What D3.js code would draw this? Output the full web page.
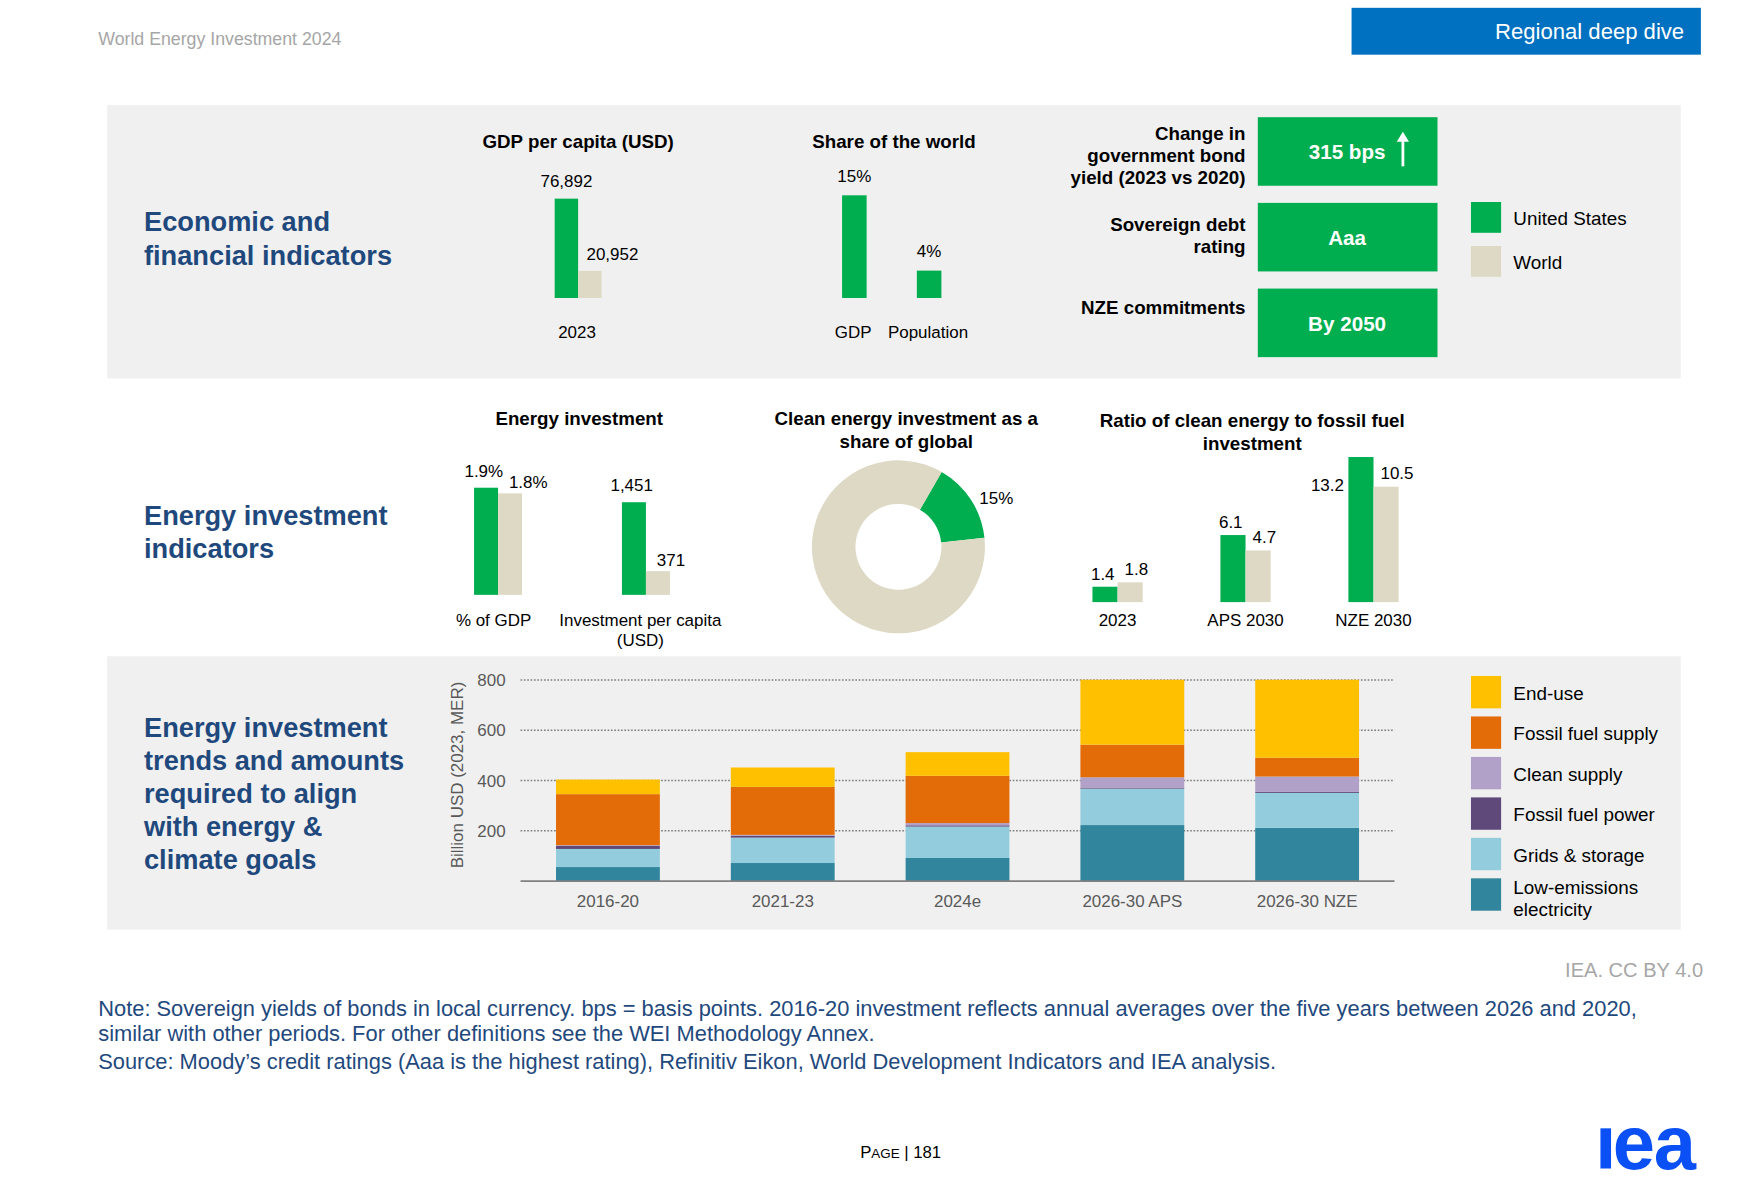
<!DOCTYPE html>
<html>
<head>
<meta charset="utf-8">
<script src="https://cdn.jsdelivr.net/npm/d3@7"></script>
<style>
  html, body { margin: 0; padding: 0; background: #ffffff; }
  svg { display: block; font-family: "Liberation Sans", Arial, sans-serif; }
</style>
</head>
<body>
<svg id="chart" width="1750" height="1204" viewBox="0 0 1568 1078.8"></svg>
<script>
// ---------------- DATA ----------------
const gdpCats = ["2023"];
const gdpUS = [76892];
const gdpWorld = [20952];
const gdpUSLabels = ["76,892"];
const gdpWorldLabels = ["20,952"];

const shareCats = ["GDP", "Population"];
const shareVals = [15, 4];
const shareLabels = ["15%", "4%"];

const boxLabels = [["Change in", "government bond", "yield (2023 vs 2020)"], ["Sovereign debt", "rating"], ["NZE commitments"]];
const boxValues = ["315 bps", "Aaa", "By 2050"];

const legendTop = ["United States", "World"];

const invCats = ["% of GDP", "Investment per capita\n(USD)"];
const invUS = [1.9, 1451];
const invWorld = [1.8, 371];
const invUSLabels = ["1.9%", "1,451"];
const invWorldLabels = ["1.8%", "371"];

const cleanShare = [15, 85];
const cleanShareLabel = "15%";

const ratioCats = ["2023", "APS 2030", "NZE 2030"];
const ratioUS = [1.4, 6.1, 13.2];
const ratioWorld = [1.8, 4.7, 10.5];

const periods = ["2016-20", "2021-23", "2024e", "2026-30 APS", "2026-30 NZE"];
const seriesNames = ["Low-emissions electricity", "Grids & storage", "Fossil fuel power", "Clean supply", "Fossil fuel supply", "End-use"];
const lowEmissions = [56, 72, 92, 223, 212];
const gridsStorage = [72, 101, 125, 145, 139];
const fossilPower = [12, 7, 5, 4, 4];
const cleanSupply = [3, 4, 9, 41, 61];
const fossilSupply = [203, 191, 188, 130, 75];
const endUse = [58, 77, 94, 258, 310];
const yTicks = [200, 400, 600, 800];
const legendBottom = ["End-use", "Fossil fuel supply", "Clean supply", "Fossil fuel power", "Grids & storage", "Low-emissions\nelectricity"];

// ---------------- STYLE ----------------
const GREEN = "#00AE50", BEIGE = "#DDD9C4", NAVY = "#1F497D", PANEL = "#F0F0F0";
const seriesColors = {
  "Low-emissions electricity": "#31859C",
  "Grids & storage": "#93CDDD",
  "Fossil fuel power": "#5F497A",
  "Clean supply": "#B1A0C7",
  "Fossil fuel supply": "#E36C09",
  "End-use": "#FFC000"
};

const svg = d3.select("#chart");

// ---------------- HEADER ----------------
svg.append("text").attr("x", 88).attr("y", 40).attr("font-size", 15.9).attr("fill", "#A6A6A6")
  .text("World Energy Investment 2024");
svg.append("rect").attr("x", 1211).attr("y", 7).attr("width", 313).attr("height", 42).attr("fill", "#0070C0");
svg.append("text").attr("x", 1509).attr("y", 35).attr("font-size", 19.8).attr("fill", "#fff")
  .attr("text-anchor", "end").text("Regional deep dive");

// panels
svg.append("rect").attr("x", 96).attr("y", 94).attr("width", 1410).attr("height", 245).attr("fill", PANEL);
svg.append("rect").attr("x", 96).attr("y", 588).attr("width", 1410).attr("height", 245).attr("fill", PANEL);

function multiText(g, lines, x, y, lh, attrs) {
  const t = g.append("text").attr("x", x).attr("y", y);
  Object.entries(attrs).forEach(([k, v]) => t.attr(k, v));
  lines.forEach((l, i) => t.append("tspan").attr("x", x).attr("y", y + i * lh).text(l));
  return t;
}
function applyAttrs(sel, attrs) { Object.entries(attrs).forEach(([k, v]) => sel.attr(k, v)); return sel; }

// section titles
const secAttrs = { "font-size": 24.4, "font-weight": "bold", "fill": NAVY };
multiText(svg, ["Economic and", "financial indicators"], 129, 207, 30, secAttrs);
multiText(svg, ["Energy investment", "indicators"], 129, 470, 30, secAttrs);
multiText(svg, ["Energy investment", "trends and amounts", "required to align", "with energy &", "climate goals"], 129, 660, 29.6, secAttrs);

const titleAttrs = { "font-size": 16.8, "font-weight": "bold", "fill": "#000", "text-anchor": "middle" };
const lblAttrs = { "font-size": 15.2, "fill": "#000" };

// ---------------- GDP PER CAPITA ----------------
{
  const g = svg.append("g");
  multiText(g, ["GDP per capita (USD)"], 518, 133, 20, titleAttrs);
  const x = d3.scaleBand().domain(gdpCats).range([476, 560]);
  const y = d3.scaleLinear().domain([0, d3.max(gdpUS)]).range([267, 178]);
  const bw = 21;
  gdpCats.forEach((c, i) => {
    const cx = x(c) + x.bandwidth() / 2;
    g.append("rect").attr("x", cx - bw).attr("width", bw).attr("y", y(gdpUS[i])).attr("height", y(0) - y(gdpUS[i])).attr("fill", GREEN);
    g.append("rect").attr("x", cx).attr("width", bw).attr("y", y(gdpWorld[i])).attr("height", y(0) - y(gdpWorld[i])).attr("fill", BEIGE);
    applyAttrs(g.append("text"), lblAttrs).attr("x", cx - bw / 2).attr("y", y(gdpUS[i]) - 10).attr("text-anchor", "middle").text(gdpUSLabels[i]);
    applyAttrs(g.append("text"), lblAttrs).attr("x", cx + bw / 2 - 3).attr("y", y(gdpWorld[i]) - 10).attr("text-anchor", "start").text(gdpWorldLabels[i]);
    applyAttrs(g.append("text"), lblAttrs).attr("x", cx - 1).attr("y", y(0) + 36).attr("text-anchor", "middle").text(c);
  });
}

// ---------------- SHARE OF THE WORLD ----------------
{
  const g = svg.append("g");
  multiText(g, ["Share of the world"], 801, 133, 20, titleAttrs);
  const x = d3.scaleBand().domain(shareCats).range([732, 866]);
  const y = d3.scaleLinear().domain([0, d3.max(shareVals)]).range([267, 175]);
  const bw = 22;
  shareCats.forEach((c, i) => {
    const cx = x(c) + x.bandwidth() / 2;
    g.append("rect").attr("x", cx - bw / 2).attr("width", bw).attr("y", y(shareVals[i])).attr("height", y(0) - y(shareVals[i])).attr("fill", GREEN);
    applyAttrs(g.append("text"), lblAttrs).attr("x", cx).attr("y", y(shareVals[i]) - 12).attr("text-anchor", "middle").text(shareLabels[i]);
    applyAttrs(g.append("text"), lblAttrs).attr("x", cx - 1).attr("y", 303).attr("text-anchor", "middle").text(c);
  });
}

// ---------------- BOXES ----------------
{
  const g = svg.append("g");
  const yb = d3.scaleBand().domain(boxValues).range([105, 320]).paddingInner(0.2);
  const boxLbl = { "font-size": 16.8, "font-weight": "bold", "fill": "#000", "text-anchor": "end" };
  boxValues.forEach((v, i) => {
    const y0 = yb(v), h = yb.bandwidth();
    g.append("rect").attr("x", 1127).attr("y", y0).attr("width", 161).attr("height", h).attr("fill", GREEN);
    g.append("text").attr("x", 1207).attr("y", y0 + h / 2 + 7).attr("text-anchor", "middle")
      .attr("font-size", 18.5).attr("font-weight", "bold").attr("fill", "#fff").text(v);
    const lines = boxLabels[i];
    const startY = lines.length === 1 ? y0 + 23 : (lines.length === 2 ? y0 + 25 : y0 + 20);
    multiText(g, lines, 1116, startY, 20, boxLbl);
  });
  // arrow in first box
  const y0 = yb(boxValues[0]);
  g.append("line").attr("x1", 1257).attr("x2", 1257).attr("y1", y0 + 44).attr("y2", y0 + 20).attr("stroke", "#fff").attr("stroke-width", 2.5);
  g.append("path").attr("d", `M${1251.5},${y0 + 22} L${1257},${y0 + 13} L${1262.5},${y0 + 22} Z`).attr("fill", "#fff");
}

// legend top
{
  const g = svg.append("g");
  const ly = d3.scaleBand().domain(legendTop).range([181, 248]).paddingInner(0.3);
  legendTop.forEach((n, i) => {
    g.append("rect").attr("x", 1318).attr("y", ly(n)).attr("width", 27).attr("height", ly.bandwidth()).attr("fill", i === 0 ? GREEN : BEIGE);
    g.append("text").attr("x", 1356).attr("y", ly(n) + ly.bandwidth() / 2 + 7).attr("font-size", 16.9).attr("fill", "#000").text(n);
  });
}

// ---------------- ENERGY INVESTMENT ----------------
{
  const g = svg.append("g");
  multiText(g, ["Energy investment"], 519, 381, 20, titleAttrs);
  const x = d3.scaleBand().domain(invCats).range([380, 645]);
  const base = 533;
  const scales = [
    d3.scaleLinear().domain([0, invUS[0]]).range([base, 437]),
    d3.scaleLinear().domain([0, invUS[1]]).range([base, 450])
  ];
  const bw = 21.5;
  invCats.forEach((c, i) => {
    const cx = x(c) + x.bandwidth() / 2;
    const y = scales[i];
    g.append("rect").attr("x", cx - bw).attr("width", bw).attr("y", y(invUS[i])).attr("height", y(0) - y(invUS[i])).attr("fill", GREEN);
    g.append("rect").attr("x", cx).attr("width", bw).attr("y", y(invWorld[i])).attr("height", y(0) - y(invWorld[i])).attr("fill", BEIGE);
    applyAttrs(g.append("text"), lblAttrs).attr("x", cx - bw / 2 - 2).attr("y", y(invUS[i]) - 10).attr("text-anchor", "middle").text(invUSLabels[i]);
    applyAttrs(g.append("text"), lblAttrs).attr("x", cx + bw / 2 - 1).attr("y", y(invWorld[i]) - 5).attr("text-anchor", "start").text(invWorldLabels[i]);
    multiText(g, c.split("\n"), cx - 4 + i * -1, 561, 18, Object.assign({ "text-anchor": "middle" }, lblAttrs));
  });
}

// ---------------- DONUT ----------------
{
  const g = svg.append("g");
  multiText(g, ["Clean energy investment as a", "share of global"], 812, 381, 20, titleAttrs);
  const cx = 805, cy = 490;
  const pie = d3.pie().sort(null).startAngle(30 * Math.PI / 180).endAngle(30 * Math.PI / 180 + 2 * Math.PI);
  const arcs = pie(cleanShare);
  const arc = d3.arc().innerRadius(38.5).outerRadius(77.5);
  const dg = g.append("g").attr("transform", `translate(${cx},${cy})`);
  dg.selectAll("path").data(arcs).join("path").attr("d", arc).attr("fill", (d, i) => i === 0 ? GREEN : BEIGE);
  const labelArc = d3.arc().innerRadius(90).outerRadius(90);
  const c = labelArc.centroid(arcs[0]);
  applyAttrs(dg.append("text"), lblAttrs).attr("x", c[0] - 3).attr("y", c[1] + 11).attr("text-anchor", "start").text(cleanShareLabel);
}

// ---------------- RATIO ----------------
{
  const g = svg.append("g");
  multiText(g, ["Ratio of clean energy to fossil fuel", "investment"], 1122, 383, 20, titleAttrs);
  const x = d3.scaleBand().domain(ratioCats).range([944, 1288]);
  const y = d3.scaleLinear().domain([0, d3.max(ratioUS)]).range([539.5, 409.5]);
  const bw = 22.5;
  ratioCats.forEach((c, i) => {
    const cx = x(c) + x.bandwidth() / 2;
    g.append("rect").attr("x", cx - bw).attr("width", bw).attr("y", y(ratioUS[i])).attr("height", y(0) - y(ratioUS[i])).attr("fill", GREEN);
    g.append("rect").attr("x", cx).attr("width", bw).attr("y", y(ratioWorld[i])).attr("height", y(0) - y(ratioWorld[i])).attr("fill", BEIGE);
    const top = y(ratioUS[i]);
    const lu = applyAttrs(g.append("text"), lblAttrs).text(d3.format(".1f")(ratioUS[i]));
    if (top < 420) {
      lu.attr("x", cx - bw - 4).attr("y", top + 30).attr("text-anchor", "end");
    } else {
      lu.attr("x", cx - bw / 2 - 2).attr("y", top - 6).attr("text-anchor", "middle");
    }
    applyAttrs(g.append("text"), lblAttrs).attr("x", cx + bw / 2 - 5).attr("y", y(ratioWorld[i]) - 7).attr("text-anchor", "start").text(d3.format(".1f")(ratioWorld[i]));
    applyAttrs(g.append("text"), lblAttrs).attr("x", cx).attr("y", 561).attr("text-anchor", "middle").text(c);
  });
}

// ---------------- STACKED BAR ----------------
{
  const g = svg.append("g");
  const rows = periods.map((p, i) => ({
    period: p,
    "Low-emissions electricity": lowEmissions[i],
    "Grids & storage": gridsStorage[i],
    "Fossil fuel power": fossilPower[i],
    "Clean supply": cleanSupply[i],
    "Fossil fuel supply": fossilSupply[i],
    "End-use": endUse[i]
  }));
  const stack = d3.stack().keys(seriesNames)(rows);
  const x = d3.scaleBand().domain(periods).range([466.4, 1249.5]).paddingInner(0.406).paddingOuter(0.203);
  const y = d3.scaleLinear().domain([0, 800]).range([789.5, 609.3]);

  g.selectAll("line.grid").data(yTicks).join("line").attr("class", "grid")
    .attr("x1", 466.4).attr("x2", 1249.5).attr("y1", d => y(d)).attr("y2", d => y(d))
    .attr("stroke", "#7F7F7F").attr("stroke-width", 1.3).attr("stroke-dasharray", "1.5,1.5");
  const axis = d3.axisLeft(y).tickValues(yTicks).tickSize(0).tickPadding(0);
  const ag = g.append("g").attr("transform", "translate(453,0)").call(axis);
  ag.select(".domain").remove();
  ag.selectAll("text").attr("font-size", 15.2).attr("fill", "#595959").attr("font-family", "Liberation Sans, Arial, sans-serif");

  stack.forEach(s => {
    g.append("g").attr("fill", seriesColors[s.key]).selectAll("rect").data(s).join("rect")
      .attr("x", d => x(d.data.period)).attr("width", x.bandwidth())
      .attr("y", d => y(d[1])).attr("height", d => y(d[0]) - y(d[1]));
  });

  g.append("line").attr("x1", 466.4).attr("x2", 1249.5).attr("y1", y(0)).attr("y2", y(0)).attr("stroke", "#808080").attr("stroke-width", 1.5);

  const xa = d3.axisBottom(x).tickSize(0).tickPadding(0);
  const xg = g.append("g").attr("transform", `translate(0,${y(0) + 23})`).call(xa);
  xg.select(".domain").remove();
  xg.selectAll("text").attr("font-size", 15.2).attr("fill", "#595959").attr("font-family", "Liberation Sans, Arial, sans-serif").attr("dy", 0);

  g.append("text").attr("transform", `translate(415,${(y(0) + y(800)) / 2 - 5}) rotate(-90)`)
    .attr("text-anchor", "middle").attr("font-size", 15.2).attr("fill", "#595959").text("Billion USD (2023, MER)");

  const ly = d3.scaleBand().domain(legendBottom).range([605.7, 816]).paddingInner(0.2);
  legendBottom.forEach(n => {
    const key = n.replace("\n", " ");
    g.append("rect").attr("x", 1318).attr("y", ly(n)).attr("width", 27).attr("height", ly.bandwidth()).attr("fill", seriesColors[key]);
    const lines = n.split("\n");
    const sy = lines.length === 1 ? ly(n) + ly.bandwidth() / 2 + 7 : ly(n) + 14;
    multiText(g, lines, 1356, sy, 20, { "font-size": 16.9, "fill": "#000" });
  });
}

// ---------------- FOOTER ----------------
svg.append("text").attr("x", 1526).attr("y", 875).attr("text-anchor", "end").attr("font-size", 18).attr("fill", "#A6A6A6").text("IEA. CC BY 4.0");
multiText(svg, [
  "Note: Sovereign yields of bonds in local currency. bps = basis points. 2016-20 investment reflects annual averages over the five years between 2026 and 2020,",
  "similar with other periods. For other definitions see the WEI Methodology Annex."
], 88, 910, 23, { "font-size": 19.6, "fill": NAVY });
svg.append("text").attr("x", 88).attr("y", 958).attr("font-size", 19.6).attr("fill", NAVY)
  .text("Source: Moody’s credit ratings (Aaa is the highest rating), Refinitiv Eikon, World Development Indicators and IEA analysis.");

{
  const t = svg.append("text").attr("x", 807).attr("y", 1038).attr("text-anchor", "middle").attr("fill", "#000").attr("font-size", 15);
  t.append("tspan").text("P");
  t.append("tspan").attr("font-size", 12).text("AGE");
  t.append("tspan").text(" | 181");
}
// IEA logo
svg.append("rect").attr("x", 1434).attr("y", 1011).attr("width", 9.5).attr("height", 36).attr("fill", "#0A50F5");
svg.append("text").attr("x", 1445).attr("y", 1047.5).attr("font-size", 68).attr("font-weight", "bold").attr("fill", "#0A50F5")
  .attr("letter-spacing", -1).text("ea");
</script>
</body>
</html>
